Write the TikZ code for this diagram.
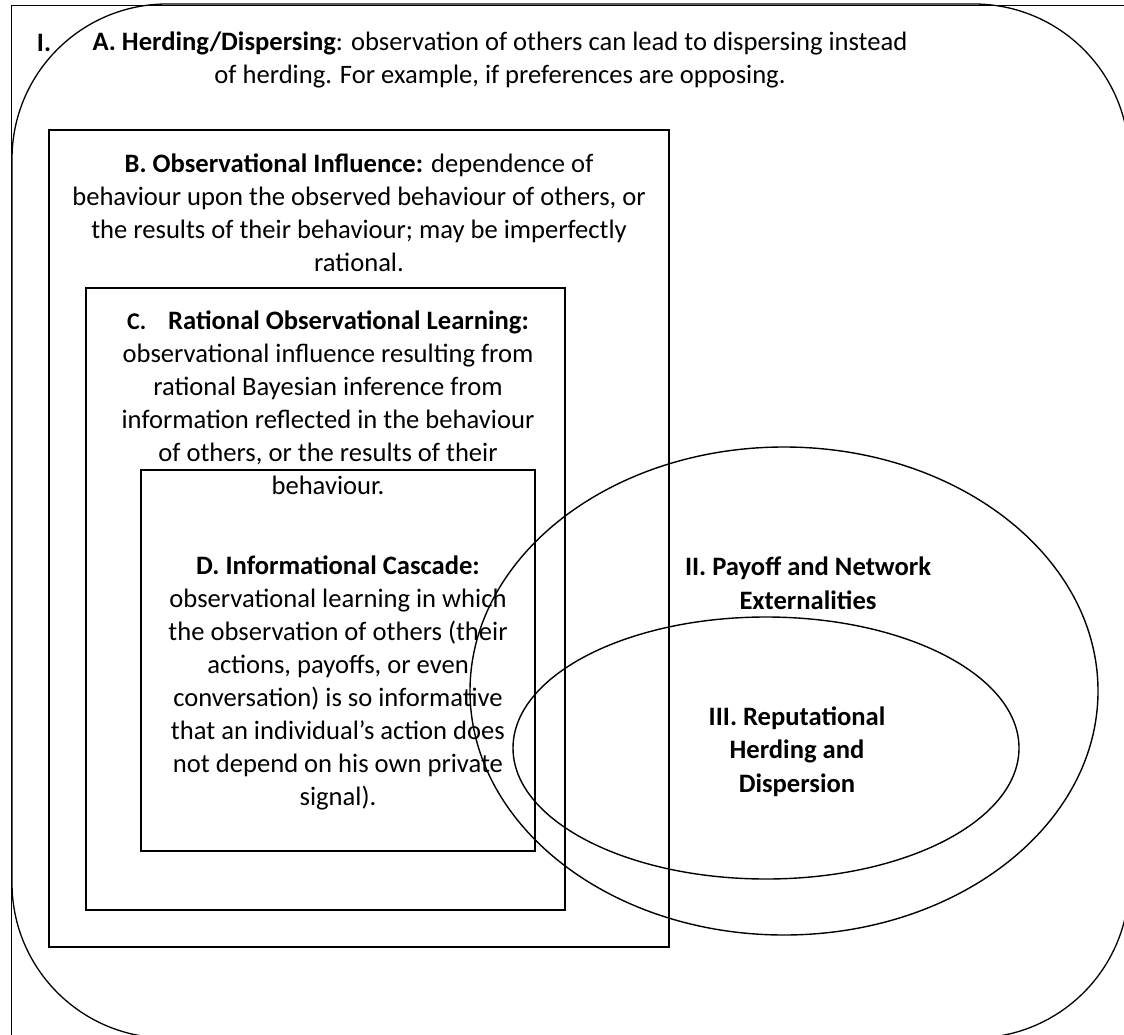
\documentclass[tikz,border=0pt]{standalone}
\usepackage{fontspec}
\setmainfont{Carlito}
\usetikzlibrary{shapes.geometric}
\begin{document}
\begin{tikzpicture}[x=1pt,y=-1pt,
  txt/.style={align=center, inner sep=0pt, font=\fontsize{26.6}{33}\selectfont},
  boxline/.style={draw, line width=2pt, inner sep=0pt},
  ring/.style={draw, ellipse, line width=1.4pt, inner sep=0pt}]
\useasboundingbox (0,0) rectangle (1124,1035);
\begin{scope}
  \clip (0,0) rectangle (1124,1035);
  % page frame and the rounded region I
  \draw[line width=1pt] (11,1100) -- (11,5.5) -- (1200,5.5);
  \draw[line width=1.3pt, rounded corners=155pt] (12,4) rectangle (1129,1038);
  % nested boxes B, C, D
  \node[boxline, minimum width=620pt, minimum height=817pt] (boxB) at (359,538.5) {};
  \node[boxline, minimum width=479pt, minimum height=622pt] (boxC) at (325.5,599) {};
  \node[boxline, minimum width=394pt, minimum height=381pt] (boxD) at (338,660.5) {};
  % ellipses II and III
  \node[ring, minimum width=628pt, minimum height=488pt] (ellII) at (784,691) {};
  \node[ring, minimum width=506pt, minimum height=262pt] (ellIII) at (766,748) {};
\end{scope}

% labels
\node[txt] (labI) at (44,43) {\textbf{I.}};
\node[txt] (labA) at (500,59.5) {\textbf{A. Herding/Dispersing}: observation of others can lead to dispersing instead\\
of herding. For example, if preferences are opposing.};
\node[txt] (labB) at (359,213) {\textbf{B. Observational Influence:} dependence of\\
behaviour upon the observed behaviour of others, or\\
the results of their behaviour; may be imperfectly\\
rational.};
\node[txt] (labC) at (328,402.5) {\textbf{{\fontsize{24}{33}\selectfont C.}\hspace{22pt}Rational Observational Learning:}\\
observational influence resulting from\\
rational Bayesian inference from\\
information reflected in the behaviour\\
of others, or the results of their\\
behaviour.};
\node[txt] (labD) at (338,682.5) {\textbf{D. Informational Cascade:}\\
observational learning in which\\
the observation of others (their\\
actions, payoffs, or even\\
conversation) is so informative\\
that an individual’s action does\\
not depend on his own private\\
signal).};
\node[txt, font=\fontsize{26.6}{34}\selectfont\bfseries] (labII) at (808,583) {II. Payoff and Network\\ Externalities};
\node[txt, font=\fontsize{26.6}{33.5}\selectfont\bfseries] (labIII) at (797,751.5) {III. Reputational\\ Herding and\\ Dispersion};
\end{tikzpicture}
\end{document}
